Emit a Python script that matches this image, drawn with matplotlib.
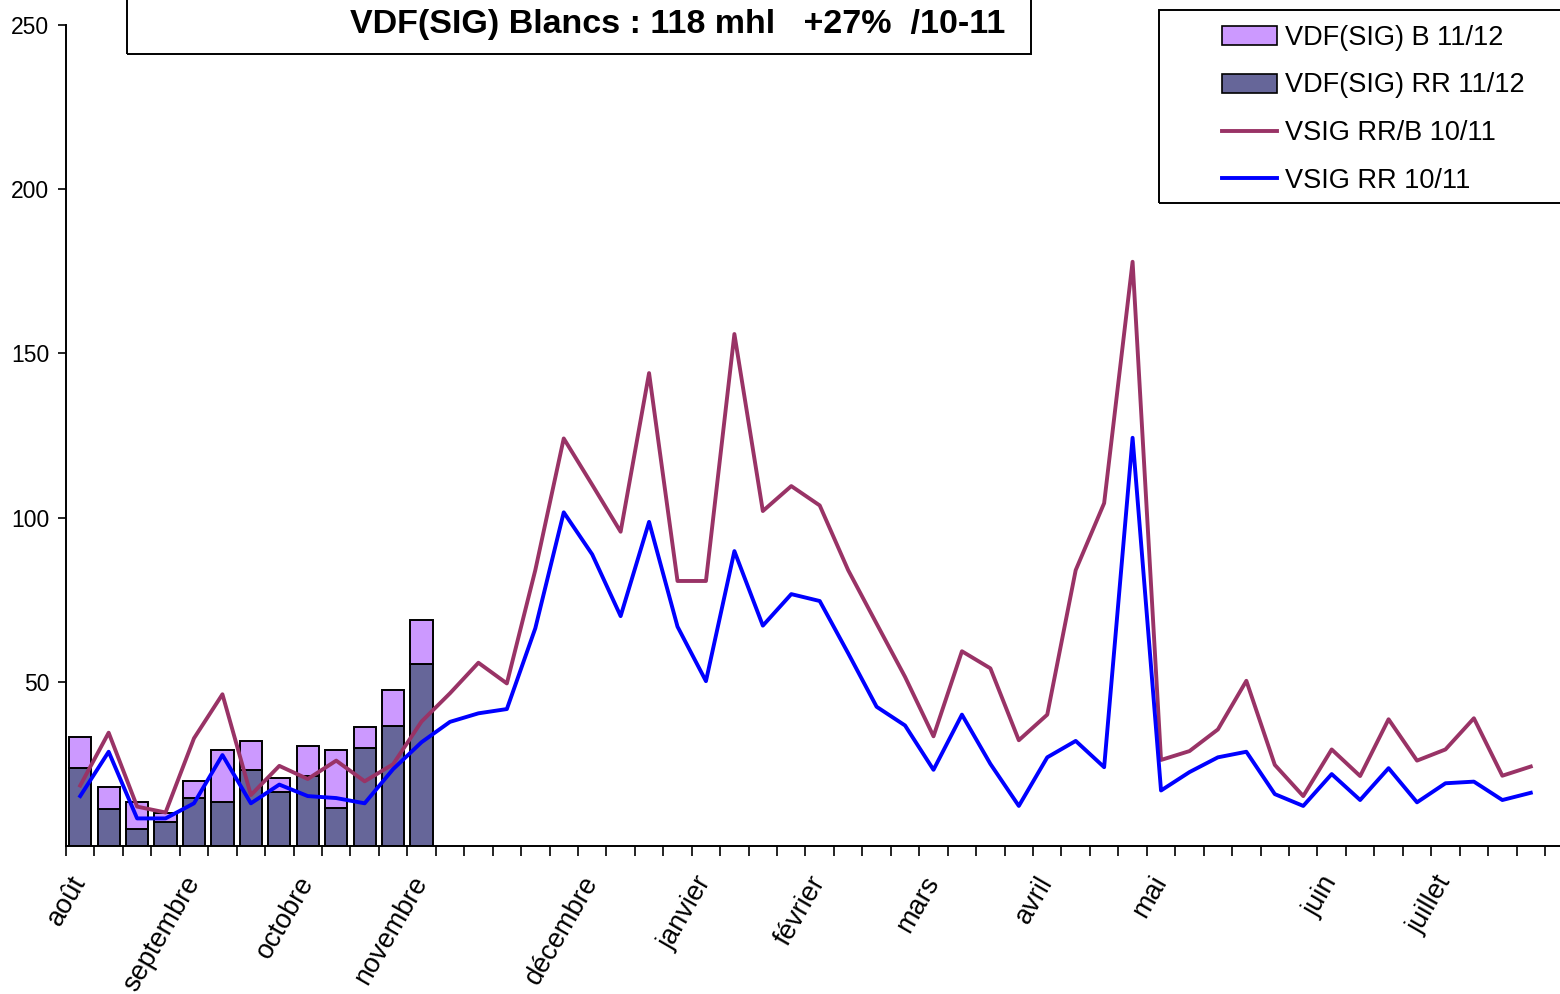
import numpy as np
import matplotlib.pyplot as plt
from matplotlib.patches import Rectangle, Patch
from matplotlib.lines import Line2D

plt.rcParams['font.family'] = ['Liberation Sans', 'DejaVu Sans']

# semaines (aout -> juillet), 52 categories
n_weeks = 52
mois = ['août', 'septembre', 'octobre', 'novembre', 'décembre', 'janvier',
        'février', 'mars', 'avril', 'mai', 'juin', 'juillet']
mois_pos = [0, 4, 8, 12, 18, 22, 26, 30, 34, 38, 44, 48]

# barres 11/12 (13 premieres semaines)
rr_1112 = [23.6, 11.2, 5.1, 7.2, 14.5, 13.4, 23.0, 16.4, 21.4, 11.7, 29.9, 36.6, 55.3]
b_1112 = [9.7, 6.8, 8.4, 2.7, 5.2, 15.8, 9.0, 4.4, 9.1, 17.5, 6.2, 10.8, 13.5]

# courbes 10/11
rrb_1011 = [18.4, 34.5, 12.0, 10.2, 32.8, 46.2, 15.5, 24.4, 20.4, 26.0, 19.7, 24.9, 37.9,
            46.5, 55.8, 49.5, 84.0, 124.1, 110.0, 95.7, 144.0, 80.7, 80.7, 155.9, 102.0,
            109.6, 103.7, 84.0, 67.7, 51.5, 33.4, 59.3, 54.1, 32.2, 40.0, 84.0, 104.4,
            177.9, 26.2, 28.9, 35.5, 50.3, 24.7, 15.2, 29.4, 21.3, 38.6, 26.0, 29.4,
            38.9, 21.4, 24.2]
rr_1011 = [15.2, 28.7, 8.4, 8.4, 13.0, 27.7, 13.0, 18.7, 15.2, 14.6, 13.0, 23.4, 31.6,
           37.8, 40.4, 41.7, 66.3, 101.6, 88.8, 70.0, 98.7, 66.8, 50.2, 89.8, 67.1,
           76.7, 74.6, 58.7, 42.4, 36.7, 23.2, 40.0, 25.0, 12.2, 27.0, 32.0, 24.0,
           124.3, 16.9, 22.5, 27.0, 28.7, 15.8, 12.2, 21.9, 14.0, 23.7, 13.3, 19.1,
           19.6, 14.0, 16.2]

titre = 'VDF(SIG) Blancs : 118 mhl   +27%  /10-11'
labels = ['VDF(SIG) B 11/12', 'VDF(SIG) RR 11/12', 'VSIG RR/B 10/11', 'VSIG RR 10/11']

c_b = '#CC99FF'
c_rr = '#666699'
c_rrb_line = '#993366'
c_rr_line = '#0000FF'

W, H = 1560, 994
fig = plt.figure(figsize=(W / 100, H / 100), dpi=100)
ax = fig.add_axes([66 / W, (H - 846) / H, (W - 66) / W, (846 - 25) / H])

xb = np.arange(len(rr_1112))
ax.bar(xb, rr_1112, width=0.78, color=c_rr, edgecolor='black', linewidth=1.4, zorder=2)
ax.bar(xb, b_1112, bottom=rr_1112, width=0.78, color=c_b, edgecolor='black', linewidth=1.4, zorder=2)

x = np.arange(n_weeks)
ax.plot(x, rrb_1011, color=c_rrb_line, lw=2.8, zorder=3)
ax.plot(x, rr_1011, color=c_rr_line, lw=2.8, zorder=4)

ax.set_xlim(-0.5, -0.5 + n_weeks * (W - 66) / (1545 - 66))
ax.set_ylim(0, 250)
ax.set_yticks([50, 100, 150, 200, 250])
ax.tick_params(axis='y', direction='out', length=6, width=1.2, labelsize=16.5, pad=6)

ax.set_xticks(mois_pos)
ax.set_xticklabels(mois, rotation=60, ha='right', va='center', rotation_mode='anchor', fontsize=19.5)
ax.set_xticks(np.arange(n_weeks + 1) - 0.5, minor=True)
ax.tick_params(axis='x', which='major', length=0, pad=23)
ax.tick_params(axis='x', which='minor', direction='out', length=7, width=1.2)

for s in ['top', 'right']:
    ax.spines[s].set_visible(False)
for s in ['left', 'bottom']:
    ax.spines[s].set_linewidth(1.4)

# titre encadre
fig.add_artist(Rectangle((127 / W, 1 - 54 / H), (1031 - 127) / W, 70 / H,
                         transform=fig.transFigure, fill=False, edgecolor='black', lw=1.4))
fig.text(678 / W, 1 - 25 / H, titre, ha='center', va='center', fontsize=24.5, fontweight='bold')

# legende
handles = [Patch(facecolor=c_b, edgecolor='black', lw=1.2),
           Patch(facecolor=c_rr, edgecolor='black', lw=1.2),
           Line2D([], [], color=c_rrb_line, lw=2.8),
           Line2D([], [], color=c_rr_line, lw=2.8)]
fig.add_artist(Rectangle((1159 / W, 1 - 203 / H), (1600 - 1159) / W, (203 - 10) / H,
                         transform=fig.transFigure, fill=False, edgecolor='black', lw=1.4))
fig.legend(handles, labels, loc='upper left', bbox_to_anchor=(1211 / W, 1 - 14 / H),
           frameon=False, fontsize=19.5, handlelength=2.05, handletextpad=0.3,
           labelspacing=0.8, borderpad=0.4, borderaxespad=0)

plt.savefig('out.png', dpi=100)
